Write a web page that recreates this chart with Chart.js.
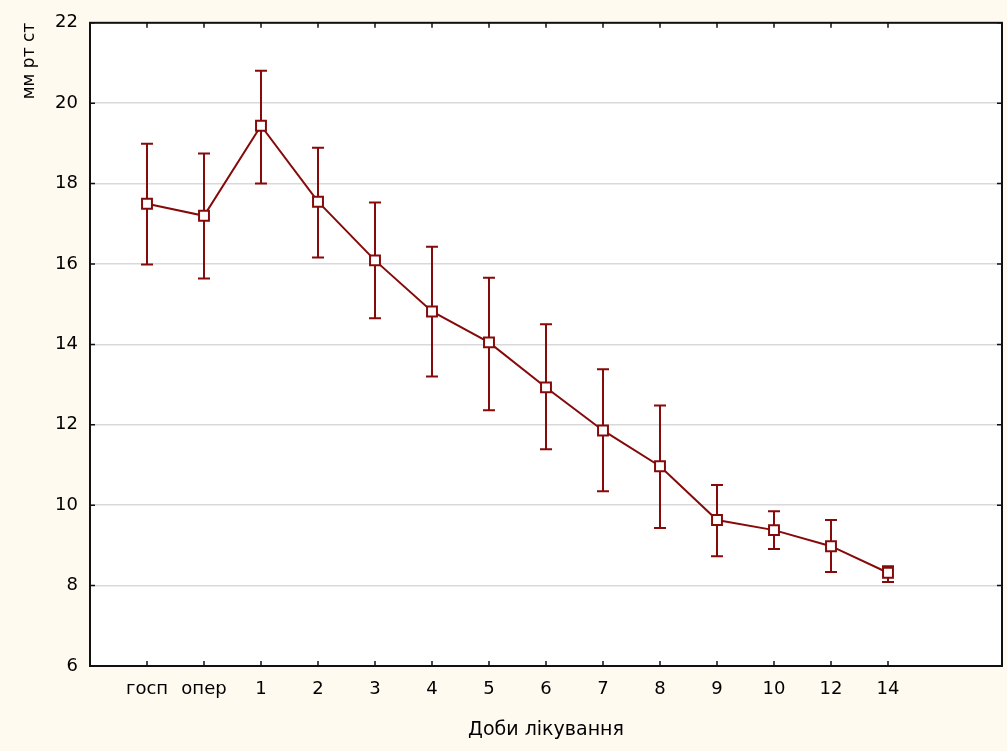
<!DOCTYPE html>
<html>
<head>
<meta charset="utf-8">
<script src="https://cdn.jsdelivr.net/npm/chart.js@4.4.1/dist/chart.umd.min.js"></script>
<style>
html, body { margin: 0; padding: 0; background: #fffaf0; }
canvas { display: block; }
</style>
</head>
<body>
<canvas id="chart" width="1007" height="751"></canvas>
<script>
// дані
const categories = ['госп', 'опер', '1', '2', '3', '4', '5', '6', '7', '8', '9', '10', '12', '14'];
const means = [17.5, 17.2, 19.44, 17.55, 16.09, 14.82, 14.05, 12.93, 11.86, 10.97, 9.63, 9.38, 8.98, 8.32];
const lowerBounds = [15.99, 15.64, 18.0, 16.16, 14.65, 13.2, 12.36, 11.39, 10.35, 9.43, 8.73, 8.91, 8.34, 8.09];
const upperBounds = [18.99, 18.75, 20.81, 18.89, 17.53, 16.43, 15.66, 14.5, 13.38, 12.48, 10.5, 9.85, 9.63, 8.48];
const yTicks = [6, 8, 10, 12, 14, 16, 18, 20, 22];

const red = '#850a0a';
const fontFamily = '"DejaVu Sans", Arial, sans-serif';

// фон сторінки і білий фон області графіка
const bgPlugin = {
    id: 'bg',
    beforeDraw(chart) {
        const ctx = chart.ctx;
        const a = chart.chartArea;
        ctx.save();
        ctx.fillStyle = '#fffaf0';
        ctx.fillRect(0, 0, chart.width, chart.height);
        ctx.fillStyle = '#ffffff';
        ctx.fillRect(a.left, a.top, a.right - a.left, a.bottom - a.top);
        ctx.restore();
    }
};

// вуса похибок
const errorBarPlugin = {
    id: 'errorBars',
    beforeDatasetsDraw(chart) {
        const ctx = chart.ctx;
        const xs = chart.scales.x;
        const ys = chart.scales.y;
        ctx.save();
        ctx.strokeStyle = red;
        ctx.lineWidth = 2;
        for (let i = 0; i < means.length; i++) {
            const x = xs.getPixelForValue(i);
            const yl = ys.getPixelForValue(lowerBounds[i]);
            const yh = ys.getPixelForValue(upperBounds[i]);
            ctx.beginPath();
            ctx.moveTo(x, yl); ctx.lineTo(x, yh);
            ctx.moveTo(x - 6, yl); ctx.lineTo(x + 6, yl);
            ctx.moveTo(x - 6, yh); ctx.lineTo(x + 6, yh);
            ctx.stroke();
        }
        ctx.restore();
    }
};

// рамка з внутрішніми рисками
const framePlugin = {
    id: 'frame',
    afterDraw(chart) {
        const ctx = chart.ctx;
        const a = chart.chartArea;
        const xs = chart.scales.x;
        const ys = chart.scales.y;
        ctx.save();
        ctx.strokeStyle = '#111';
        ctx.lineWidth = 2;
        ctx.strokeRect(a.left, a.top, a.right - a.left, a.bottom - a.top);
        ctx.lineWidth = 1.5;
        ctx.beginPath();
        xs.ticks.forEach(t => {
            const x = xs.getPixelForValue(t.value);
            ctx.moveTo(x, a.bottom); ctx.lineTo(x, a.bottom - 5);
            ctx.moveTo(x, a.top); ctx.lineTo(x, a.top + 5);
        });
        ys.ticks.forEach(t => {
            const y = ys.getPixelForValue(t.value);
            ctx.moveTo(a.left, y); ctx.lineTo(a.left + 5, y);
            ctx.moveTo(a.right, y); ctx.lineTo(a.right - 5, y);
        });
        ctx.stroke();
        ctx.restore();
    }
};

const ctx = document.getElementById('chart');
new Chart(ctx, {
    type: 'line',
    data: {
        datasets: [{
            data: means.map((v, i) => ({ x: i, y: v })),
            borderColor: red,
            borderWidth: 2,
            tension: 0,
            pointStyle: 'rect',
            pointRadius: 7,
            pointBorderWidth: 2,
            pointBorderColor: red,
            pointBackgroundColor: '#ffffff'
        }]
    },
    options: {
        responsive: false,
        devicePixelRatio: 1,
        animation: false,
        events: [],
        layout: { autoPadding: false, padding: { top: 22, right: 5, left: 0, bottom: 0 } },
        plugins: {
            legend: { display: false },
            tooltip: { enabled: false }
        },
        scales: {
            x: {
                type: 'linear',
                min: -1,
                max: 15,
                afterBuildTicks: scale => {
                    scale.ticks = categories.map((c, i) => ({ value: i }));
                },
                afterFit: scale => {
                    scale.height = 85;
                    scale.paddingLeft = 0;
                    scale.paddingRight = 0;
                },
                ticks: {
                    autoSkip: false,
                    maxRotation: 0,
                    padding: 13,
                    color: '#000',
                    font: { family: fontFamily, size: 18 },
                    callback: v => categories[v]
                },
                grid: { display: false, drawTicks: false },
                border: { display: false },
                title: {
                    display: true,
                    text: 'Доби лікування',
                    color: '#000',
                    font: { family: fontFamily, size: 19 },
                    padding: { top: 0, bottom: 10 }
                }
            },
            y: {
                min: 6,
                max: 22,
                afterBuildTicks: scale => {
                    scale.ticks = yTicks.map(v => ({ value: v }));
                },
                afterFit: scale => { scale.width = 90; },
                ticks: {
                    padding: 12,
                    color: '#000',
                    font: { family: fontFamily, size: 18 }
                },
                grid: { color: '#d9d9d9', lineWidth: 1.5, drawTicks: false },
                border: { display: false },
                title: {
                    display: true,
                    text: 'мм рт ст',
                    align: 'end',
                    color: '#000',
                    font: { family: fontFamily, size: 17 },
                    padding: { top: 19, bottom: 0 }
                }
            }
        }
    },
    plugins: [bgPlugin, errorBarPlugin, framePlugin]
});
</script>
</body>
</html>
